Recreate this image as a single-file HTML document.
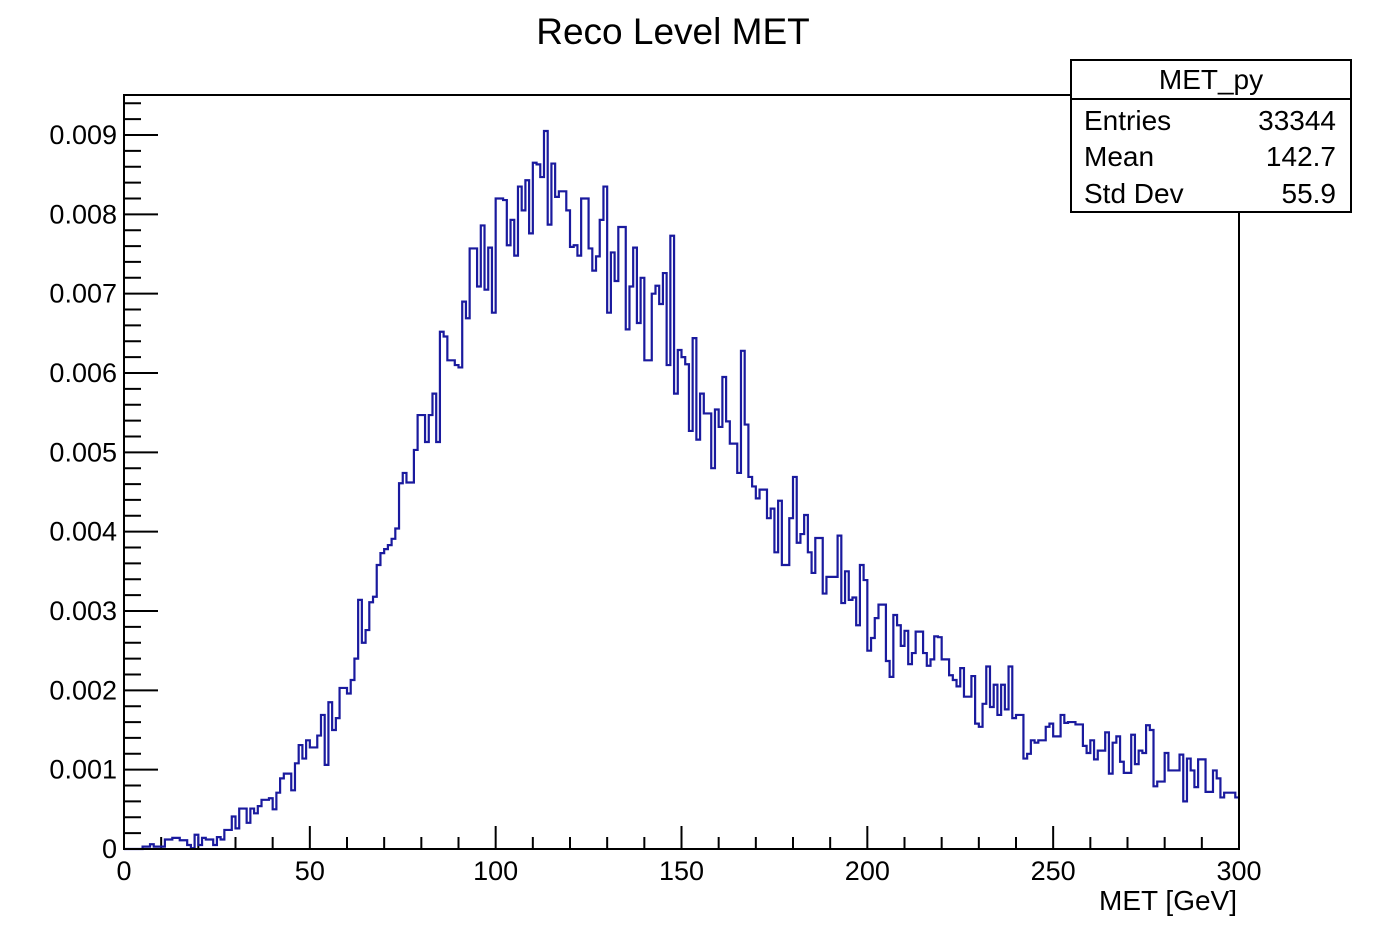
<!DOCTYPE html>
<html><head><meta charset="utf-8"><style>
body{margin:0;background:#fff;}
svg text{font-family:"Liberation Sans",sans-serif;fill:#000;}
</style></head><body>
<svg id="chart" width="1376" height="938" viewBox="0 0 1376 938" xmlns="http://www.w3.org/2000/svg">
<rect width="1376" height="938" fill="#fff"/>
<text x="673" y="44" font-size="37" text-anchor="middle">Reco Level MET</text>
<g id="axes"></g>
<path id="hist" fill="none" stroke="#1a1a9e" stroke-width="2.2"/>
<rect x="124" y="95" width="1115" height="754" fill="none" stroke="#000" stroke-width="2"/>
<g>
<rect x="1071" y="60" width="280" height="152" fill="#fff" stroke="#000" stroke-width="2"/>
<line x1="1071" y1="99" x2="1351" y2="99" stroke="#000" stroke-width="2"/>
<text x="1211" y="89" font-size="28" text-anchor="middle">MET_py</text>
<text x="1084" y="130" font-size="28">Entries</text>
<text x="1336" y="130" font-size="28" text-anchor="end">33344</text>
<text x="1084" y="166" font-size="28">Mean</text>
<text x="1336" y="166" font-size="28" text-anchor="end">142.7</text>
<text x="1084" y="203" font-size="28">Std Dev</text>
<text x="1336" y="203" font-size="28" text-anchor="end">55.9</text>
</g>
<text x="1237" y="910" font-size="28" text-anchor="end">MET [GeV]</text>
</svg>
<script>
// bin contents in units of 1e-5, bins 0..299 (1 GeV wide)
const binValues = [
0,0,0,0,0,3,3,6,3,3,3,12,12,14,14,11,11,5,1,18,
5,14,12,12,5,15,12,24,24,41,26,51,51,33,51,45,54,62,62,64,
50,71,89,95,95,74,108,131,114,137,128,128,143,169,106,185,150,165,203,203,
196,213,240,314,260,276,311,318,358,373,378,383,391,404,461,474,462,462,503,547,
547,513,547,574,513,652,646,616,616,610,607,690,669,757,757,709,786,705,758,676,
820,820,818,761,793,748,835,805,843,776,865,863,847,905,787,864,822,829,829,805,
759,761,748,820,820,757,729,747,793,835,676,752,716,784,784,655,709,758,663,720,
616,616,700,710,687,726,610,773,574,629,620,611,527,644,516,574,549,549,480,554,
532,595,539,511,511,474,628,535,469,457,442,453,453,417,429,374,439,358,358,417,
469,386,397,421,374,348,392,392,322,343,343,343,395,310,350,314,317,282,358,339,
250,266,291,308,308,237,217,295,282,256,275,233,247,274,274,247,231,239,268,267,
239,239,219,213,205,228,192,192,218,158,154,183,230,179,207,169,207,176,230,165,
169,169,114,120,137,134,137,137,154,158,142,142,169,159,160,160,157,157,130,121,
137,113,124,124,147,95,134,142,110,96,96,144,107,124,121,156,150,79,85,85,
121,99,99,99,119,60,114,99,78,113,113,72,72,99,89,65,71,71,71,65];
const xTickLabels = ["0","50","100","150","200","250","300"];
const yTickLabels = ["0","0.001","0.002","0.003","0.004","0.005","0.006","0.007","0.008","0.009"];

const X0=124,X1=1239,Y0=849,Y1=95,XMAX=300,YPERUNIT=79.333;
const xs=v=>X0+(v/XMAX)*(X1-X0);
const ys=v=>Y0-v*1e-5*YPERUNIT*1000;
const NS="http://www.w3.org/2000/svg";
const axes=document.getElementById('axes');
function mk(tag,attrs){const e=document.createElementNS(NS,tag);for(const k in attrs)e.setAttribute(k,attrs[k]);return e;}

let d="M"+xs(0)+","+ys(binValues[0]);
for(let i=0;i<binValues.length;i++){
  const w=XMAX/binValues.length;
  d+=" L"+xs(i*w)+","+ys(binValues[i])+" L"+xs((i+1)*w)+","+ys(binValues[i]);
}
document.getElementById('hist').setAttribute('d',d);

for(let k=0;k<=47;k++){
  const v=k*20; const y=ys(v); if(y<Y1)break;
  const major=k%5===0;
  const t=mk('line',{x1:X0,x2:X0+(major?34:17),y1:y,y2:y,stroke:'#000','stroke-width':2});
  
  
  axes.appendChild(t);
}
yTickLabels.forEach((s,i)=>{
  const t=mk('text',{x:117,y:ys(i*100)+9,'font-size':27,'text-anchor':'end'});
  t.textContent=s;
  
  
  axes.appendChild(t);
});
for(let v=0;v<=300;v+=10){
  const major=v%50===0;
  const t=mk('line',{x1:xs(v),x2:xs(v),y1:Y0,y2:Y0-(major?23:12),stroke:'#000','stroke-width':2});
  
  
  axes.appendChild(t);
}
xTickLabels.forEach((s,i)=>{
  const t=mk('text',{x:xs(i*50),y:880,'font-size':27,'text-anchor':'middle'});
  t.textContent=s;
  
  
  axes.appendChild(t);
});
</script>
</body></html>
